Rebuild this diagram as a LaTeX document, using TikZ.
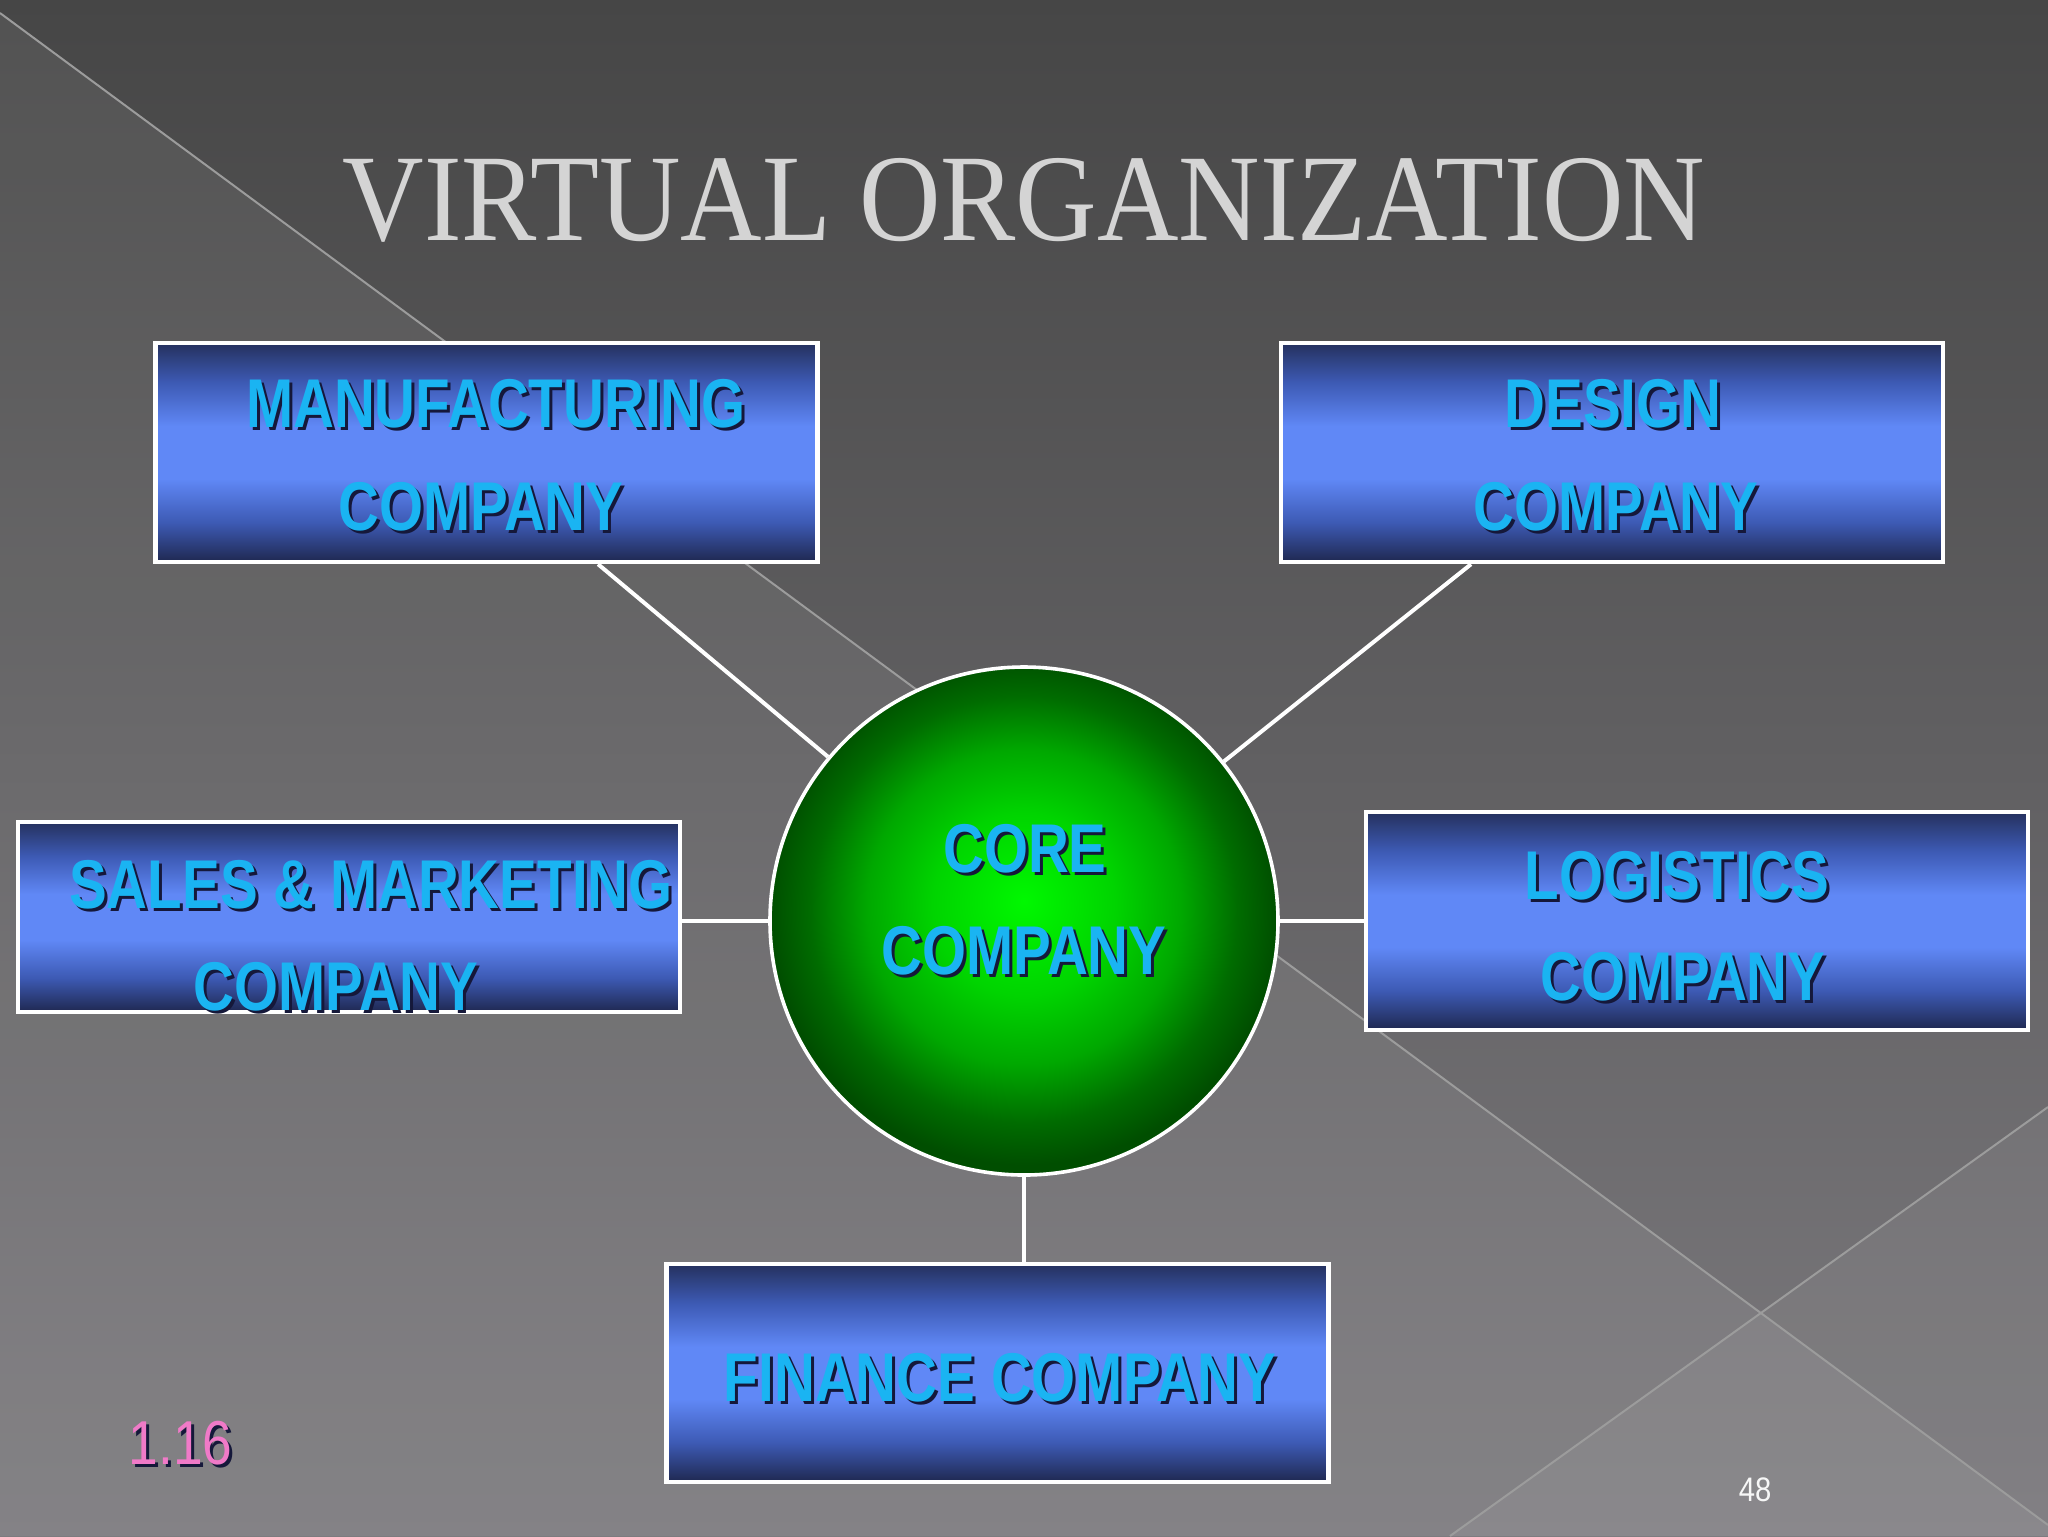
\documentclass[tikz,border=0pt]{standalone}
\usepackage{fontspec}
\setmainfont{Liberation Sans}
\newfontfamily\boxfont[FakeStretch=0.82]{Liberation Sans}
\newfontfamily\titlefont[FakeStretch=0.91]{Liberation Serif}
\newfontfamily\numfont[FakeStretch=0.86]{Liberation Sans}
\usetikzlibrary{calc}
\definecolor{bgtop}{HTML}{464646}
\definecolor{bgbot}{HTML}{7C7A7E}
\definecolor{linegray}{HTML}{9C9C9C}
\definecolor{bxdark}{HTML}{1F2850}
\definecolor{bxtop}{HTML}{25315E}
\definecolor{bxmid}{HTML}{3D5AB4}
\definecolor{bxlight}{HTML}{6088F6}
\definecolor{txtcyan}{HTML}{1AB4F2}
\definecolor{shadowc}{HTML}{15183A}
\definecolor{titlegray}{HTML}{D4D4D4}
\definecolor{pinkc}{HTML}{F07AC8}
\definecolor{g1}{HTML}{00F800}
\definecolor{g2}{HTML}{00D400}
\definecolor{g3}{HTML}{00A800}
\definecolor{g4}{HTML}{006C00}
\definecolor{g5}{HTML}{004E00}
\pgfdeclareverticalshading{boxshade}{100bp}{color(0bp)=(bxdark); color(25bp)=(bxdark); color(34bp)=(bxmid); color(44bp)=(bxlight); color(56bp)=(bxlight); color(66bp)=(bxmid); color(75bp)=(bxtop); color(100bp)=(bxtop)}
\pgfdeclareradialshading{coreshade}{\pgfpoint{0bp}{2bp}}{color(0bp)=(g1); color(9bp)=(g2); color(15.5bp)=(g3); color(21bp)=(g4); color(25bp)=(g5); color(50bp)=(g5)}
\newcommand\shad[1]{\leavevmode\rlap{\kern0.75pt\raisebox{-0.75pt}{\textcolor{shadowc}{#1}}}#1}
\begin{document}
\begin{tikzpicture}[x=0.25pt,y=-0.25pt,
  box/.style={rectangle,draw=white,line width=1.1pt,shading=boxshade,inner sep=0pt,minimum width=165.5pt},
  boxtxt/.style={anchor=base,text=txtcyan,font=\boxfont\bfseries\fontsize{17.25pt}{20pt}\selectfont,inner sep=0pt},
  link/.style={draw=white,line width=1pt}]
\useasboundingbox (0,0) rectangle (2048,1536);
% background
\fill[top color=bgtop,bottom color=bgbot] (0,0) rectangle (2048,1536);
\fill[white,opacity=0.065] (0,13) -- (2048,1525) -- (2048,1536) -- (0,1536) -- cycle;
\fill[white,opacity=0.05] (1450,1536) -- (2048,1107) -- (2048,1536) -- cycle;
\draw[linegray,line width=0.5pt] (0,13) -- (2048,1525);
\draw[linegray,line width=0.5pt] (1450,1536) -- (2048,1107);
% title
\node[anchor=base,text=titlegray,font=\titlefont\fontsize{31pt}{36pt}\selectfont,inner sep=0pt] (title) at (1024,240) {VIRTUAL ORGANIZATION};
% boxes
\node[box,minimum height=54.75pt] (mfg) at (486.5,452.5) {};
\node[box,minimum height=54.75pt] (des) at (1612,452.5) {};
\node[box,minimum height=47.5pt] (sal) at (349,917) {};
\node[box,minimum height=54.5pt] (log) at (1697,921) {};
\node[box,minimum height=54.5pt] (fin) at (997.5,1373) {};
\node[circle,draw=white,line width=0.9pt,shading=coreshade,minimum size=127pt,inner sep=0pt] (core) at (1024,921) {};
% connectors
\draw[link] ([xshift=27.9pt]mfg.south) -- (core);
\draw[link] ([xshift=-35.25pt]des.south) -- (core);
\draw[link] (sal.east |- core) -- (core);
\draw[link] (core) -- (log.west |- core);
\draw[link] (core) -- (core |- fin.north);
% texts
\node[boxtxt] (t1) at (496,427) {\shad{MANUFACTURING}};
\node[boxtxt] (t2) at (481,530) {\shad{COMPANY}};
\node[boxtxt] (t3) at (1613,427) {\shad{DESIGN}};
\node[boxtxt] (t4) at (1616,530) {\shad{COMPANY}};
\node[boxtxt] (t5) at (371,908) {\shad{SALES \& MARKETING}};
\node[boxtxt] (t6) at (336,1010) {\shad{COMPANY}};
\node[boxtxt] (t7) at (1025,872) {\shad{CORE}};
\node[boxtxt] (t8) at (1024,974) {\shad{COMPANY}};
\node[boxtxt] (t9) at (1677,899) {\shad{LOGISTICS}};
\node[boxtxt] (t10) at (1683,1000) {\shad{COMPANY}};
\node[boxtxt] (t11) at (1000,1401) {\shad{FINANCE COMPANY}};
% footer
\node[anchor=base west,text=pinkc,font=\numfont\fontsize{15.5pt}{18pt}\selectfont,inner sep=0pt] (num) at (128,1464) {\shad{1.16}};
\node[anchor=base west,text=white!94!gray,font=\numfont\fontsize{8.5pt}{10pt}\selectfont,inner sep=0pt] (pg) at (1738,1501) {48};
\end{tikzpicture}
\end{document}
